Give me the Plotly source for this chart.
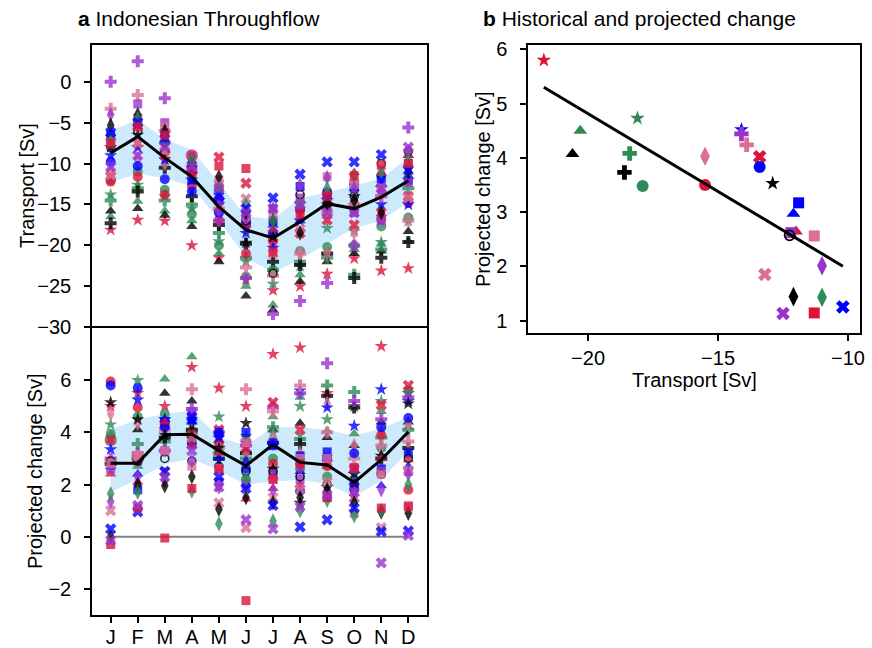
import numpy as np
import plotly.graph_objects as go

months = ["J", "F", "M", "A", "M", "J", "J", "A", "S", "O", "N", "D"]

# ---- panel a (top): multi-model mean and spread of transport [Sv]
trans_mean = [-8.7, -6.7, -9.3, -11.6, -15.3, -18.1, -19.1, -17.1, -14.9, -15.5, -14.1, -12.1]
trans_upper = [-6.0, -4.6, -7.0, -8.3, -12.4, -16.4, -16.8, -14.2, -13.5, -12.7, -11.8, -9.3]
trans_lower = [-12.3, -11.2, -11.8, -12.8, -16.9, -21.5, -23.3, -21.7, -19.8, -17.9, -17.0, -14.7]

# ---- panel a (bottom): multi-model mean and spread of projected change [Sv]
proj_mean = [2.82, 2.82, 3.91, 3.93, 3.3, 2.72, 3.53, 2.85, 2.75, 2.08, 2.95, 4.02]
proj_upper = [4.1, 4.5, 4.7, 4.85, 3.8, 3.5, 4.2, 4.2, 4.1, 3.87, 4.15, 4.58]
proj_lower = [1.7, 2.2, 2.78, 3.0, 2.53, 2.0, 2.12, 2.18, 2.02, 1.54, 2.15, 3.3]

zero_x = [0, 11]
zero_y = [0, 0]

# ---- individual models: monthly transport (t_) and projected change (p_)
t_crimson_star = [-18.1, -16.9, -17.0, -20.0, -21.5, -24.2, -25.5, -25.0, -23.5, -21.6, -23.1, -22.8]
p_crimson_star = [5.0, 5.5, 5.0, 6.5, 5.7, 5.0, 7.0, 7.25, 5.5, 5.0, 7.3, 5.5]
t_green_tri = [-16.5, -14.6, -15.8, -17.0, -21.0, -25.0, -27.3, -23.6, -21.0, -20.5, -19.8, -19.5]
p_green_tri = [3.9, 2.7, 6.05, 6.9, 3.5, 3.8, 4.6, 5.35, 4.05, 3.95, 4.8, 4.2]
t_black_tri = [-15.8, -15.5, -16.3, -17.7, -22.0, -26.2, -27.9, -24.4, -22.0, -21.0, -20.7, -18.3]
p_black_tri = [2.9, 4.1, 5.5, 5.2, 3.7, 3.3, 4.1, 4.35, 3.8, 3.5, 4.4, 4.4]
t_green_star = [-13.8, -12.6, -14.0, -15.5, -19.5, -22.0, -24.7, -22.5, -17.9, -18.3, -19.6, -17.0]
p_green_star = [4.3, 6.0, 4.5, 4.3, 4.6, 3.85, 4.0, 5.0, 4.5, 5.0, 5.2, 5.5]
t_green_plus = [-14.5, -13.0, -14.5, -15.0, -18.5, -21.5, -23.0, -22.0, -21.5, -23.6, -20.5, -13.0]
p_green_plus = [3.7, 3.55, 3.65, 4.0, 3.2, 3.0, 4.2, 3.75, 5.8, 5.55, 3.8, 4.1]
t_black_plus = [-17.3, -13.4, -10.5, -14.0, -17.5, -19.8, -22.0, -22.4, -21.0, -24.0, -21.5, -19.6]
p_black_plus = [2.8, 3.0, 3.8, 4.1, 3.0, 3.2, 3.6, 3.55, 5.4, 4.95, 3.0, 3.4]
t_green_circle = [-12.0, -11.0, -13.2, -16.2, -20.0, -23.8, -23.0, -20.7, -20.2, -20.0, -17.7, -16.6]
p_green_circle = [3.95, 4.6, 4.7, 3.5, 3.3, 2.2, 3.0, 2.6, 2.3, 2.2, 3.4, 5.6]
t_pink_diamond = [-11.0, -9.5, -10.0, -11.5, -13.2, -18.0, -20.0, -21.0, -21.0, -18.5, -15.9, -14.5]
p_pink_diamond = [4.7, 4.35, 4.1, 4.5, 3.5, 3.2, 3.8, 3.2, 5.1, 3.5, 4.0, 4.3]
t_crimson_circle = [-12.2, -11.6, -13.8, -12.7, -16.9, -21.0, -19.5, -15.7, -16.0, -15.0, -16.8, -14.8]
p_crimson_circle = [5.95, 4.95, 4.4, 3.9, 3.6, 3.6, 2.8, 2.8, 2.7, 2.0, 3.9, 1.8]
t_blue_star = [-9.0, -8.0, -9.5, -12.0, -15.0, -18.5, -20.3, -17.0, -14.5, -15.5, -15.0, -15.0]
p_blue_star = [3.35, 5.25, 4.5, 4.5, 3.8, 3.6, 3.5, 5.6, 4.95, 4.25, 5.65, 5.2]
t_orchid_plus = [0.0, 2.5, -2.0, -9.0, -17.0, -24.0, -28.4, -26.8, -24.6, -20.0, -14.0, -5.6]
p_orchid_plus = [3.0, 3.2, 3.3, 4.9, 4.0, 3.5, 4.95, 5.5, 6.65, 5.2, 4.5, 5.35]
t_pink_plus = [-3.3, -1.6, -6.0, -11.0, -15.5, -22.7, -23.7, -21.0, -16.0, -15.0, -14.0, -17.0]
p_pink_plus = [2.9, 3.1, 4.1, 5.65, 3.4, 5.65, 4.8, 5.8, 4.0, 3.0, 3.5, 3.65]
t_crimson_x = [-11.6, -7.5, -9.0, -9.0, -9.2, -12.4, -19.0, -18.5, -16.9, -17.5, -16.0, -14.0]
p_crimson_x = [3.7, 3.0, 4.3, 3.9, 4.1, 3.4, 5.15, 4.1, 3.0, 2.6, 5.05, 5.8]
t_blue_circle = [-9.8, -10.3, -11.9, -13.4, -16.0, -17.5, -18.5, -15.5, -13.6, -12.5, -11.5, -10.3]
p_blue_circle = [5.8, 5.7, 4.2, 3.6, 3.9, 2.6, 3.5, 1.75, 3.0, 3.2, 4.2, 4.55]
t_black_star = [-8.0, -6.5, -7.7, -10.5, -14.5, -19.7, -19.0, -15.0, -15.0, -14.0, -13.0, -12.0]
p_black_star = [5.15, 4.5, 3.9, 3.8, 3.4, 4.35, 2.6, 1.3, 1.9, 2.4, 3.1, 5.1]
t_blue_square = [-6.5, -4.5, -6.2, -12.0, -14.5, -17.0, -17.0, -12.8, -13.6, -13.0, -11.9, -12.0]
p_blue_square = [2.75, 1.8, 4.4, 4.5, 4.0, 4.0, 3.6, 3.1, 3.25, 1.9, 2.6, 3.2]
t_blue_tri = [-6.8, -5.0, -7.0, -10.8, -14.0, -17.0, -17.5, -17.0, -14.0, -13.0, -12.5, -9.0]
p_blue_tri = [2.7, 2.4, 4.5, 4.4, 3.0, 2.9, 2.3, 2.5, 3.0, 2.1, 1.95, 2.7]
t_crimson_tri = [-6.3, -5.5, -8.3, -10.3, -15.5, -17.5, -18.0, -16.5, -13.4, -11.1, -11.2, -9.0]
p_crimson_tri = [2.4, 2.1, 4.4, 3.5, 3.2, 1.45, 1.85, 2.0, 2.7, 1.45, 3.0, 2.95]
t_orchid_square = [-7.0, -2.7, -5.0, -10.3, -14.5, -17.0, -15.5, -14.2, -15.0, -16.0, -17.0, -12.3]
p_orchid_square = [2.6, 2.9, 3.3, 4.8, 2.1, 2.0, 2.4, 2.2, 1.5, 2.6, 2.5, 2.5]
t_black_circle = [-8.0, -6.0, -8.5, -10.0, -13.0, -17.0, -23.4, -13.8, -15.0, -14.0, -10.0, -8.5]
p_black_circle = [2.9, 2.9, 3.0, 2.9, 2.7, 2.5, 2.5, 2.3, 2.0, 1.8, 2.4, 3.0]
t_pink_square = [-7.3, -4.5, -5.5, -10.5, -12.0, -16.5, -16.3, -15.0, -11.6, -12.5, -13.0, -10.0]
p_pink_square = [2.8, 3.1, 3.3, 2.7, 2.6, 3.6, 2.2, 3.0, 3.0, 0.9, 2.4, 1.2]
t_pink_x = [-11.4, -7.5, -8.5, -11.0, -12.5, -14.3, -21.0, -18.0, -16.0, -12.5, -13.0, -14.2]
p_pink_x = [1.0, 3.1, 2.5, 3.8, 1.3, 0.35, 1.5, 1.8, 2.1, 1.5, 0.35, 2.55]
t_orchid_diamond = [-4.0, -4.8, -6.5, -10.0, -15.7, -16.5, -15.5, -12.6, -11.7, -13.0, -13.5, -8.5]
p_orchid_diamond = [1.35, 2.3, 2.15, 2.9, 1.9, 2.0, 1.8, 2.6, 1.6, 1.7, 1.8, 2.4]
t_black_diamond = [-5.3, -4.0, -6.0, -10.0, -11.6, -16.0, -17.0, -18.5, -15.0, -14.5, -16.0, -11.0]
p_black_diamond = [0.0, 2.0, 1.95, 2.3, 1.05, 1.5, 1.3, 1.5, 1.8, 1.3, 0.95, 0.9]
t_green_diamond = [-6.8, -4.5, -7.0, -9.5, -13.0, -15.0, -17.0, -15.0, -13.0, -11.5, -11.0, -9.5]
p_green_diamond = [1.65, 1.7, 2.4, 1.75, 0.5, 2.2, 0.6, 1.0, 1.4, 0.8, 1.0, 2.0]
t_blue_x = [-6.2, -5.0, -7.0, -10.8, -14.0, -15.5, -14.2, -11.3, -9.8, -9.8, -8.9, -10.8]
p_blue_x = [0.3, 0.95, 2.5, 4.6, 2.3, 1.85, 1.2, 0.38, 0.65, 1.1, 0.2, 0.22]
t_crimson_square = [-7.5, -5.5, -6.5, -11.0, -10.3, -10.6, -20.8, -16.0, -14.0, -11.5, -10.2, -10.0]
p_crimson_square = [-0.3, 1.1, -0.05, 1.85, 2.6, -2.45, 2.2, 2.8, 1.5, 2.65, 1.1, 1.15]
t_orchid_x = [-10.4, -9.0, -8.0, -10.3, -13.0, -16.0, -15.5, -15.0, -16.0, -16.0, -13.0, -8.0]
p_orchid_x = [-0.15, 1.2, 2.3, 3.3, 1.9, 0.65, 0.3, 1.15, 1.6, 1.7, -1.0, 0.05]

# ---- panel b: annual-mean historical transport vs projected change per model
hist_transport = [-21.7, -20.3, -20.6, -18.1, -18.4, -18.6, -17.9, -15.5, -15.5, -14.1,
                  -14.1, -13.9, -13.4, -13.4, -12.9, -11.9, -12.1, -12.0, -12.2, -12.25,
                  -11.3, -13.2, -11.0, -12.1, -11.0, -10.2, -11.3, -12.5]
proj_change = [5.8, 4.5, 4.07, 4.73, 4.08, 3.73, 3.48, 4.03, 3.5, 4.52,
               4.44, 4.24, 4.02, 3.83, 3.53, 3.17, 2.97, 2.64, 2.62, 2.57,
               2.56, 1.85, 2.01, 1.44, 1.43, 1.25, 1.14, 1.13]

# ---- styles (colour, symbol) for each model, same order as panel b
CRIMSON, GREEN, BLUE, BLACK, PINK, ORCHID = "#DC143C", "#2E8B57", "#0000FF", "#000000", "#DB7093", "#9932CC"
styles = [
    (CRIMSON, "star"), (GREEN, "triangle-up"), (BLACK, "triangle-up"), (GREEN, "star"),
    (GREEN, "cross"), (BLACK, "cross"), (GREEN, "circle"), (PINK, "diamond-tall"),
    (CRIMSON, "circle"), (BLUE, "star"), (ORCHID, "cross"), (PINK, "cross"),
    (CRIMSON, "x"), (BLUE, "circle"), (BLACK, "star"), (BLUE, "square"),
    (BLUE, "triangle-up"), (CRIMSON, "triangle-up"), (ORCHID, "square"), (BLACK, "circle-open"),
    (PINK, "square"), (PINK, "x"), (ORCHID, "diamond-tall"), (BLACK, "diamond-tall"),
    (GREEN, "diamond-tall"), (BLUE, "x"), (CRIMSON, "square"), (ORCHID, "x"),
]
monthly = [
    (t_crimson_star, p_crimson_star), (t_green_tri, p_green_tri), (t_black_tri, p_black_tri),
    (t_green_star, p_green_star), (t_green_plus, p_green_plus), (t_black_plus, p_black_plus),
    (t_green_circle, p_green_circle), (t_pink_diamond, p_pink_diamond), (t_crimson_circle, p_crimson_circle),
    (t_blue_star, p_blue_star), (t_orchid_plus, p_orchid_plus), (t_pink_plus, p_pink_plus),
    (t_crimson_x, p_crimson_x), (t_blue_circle, p_blue_circle), (t_black_star, p_black_star),
    (t_blue_square, p_blue_square), (t_blue_tri, p_blue_tri), (t_crimson_tri, p_crimson_tri),
    (t_orchid_square, p_orchid_square), (t_black_circle, p_black_circle), (t_pink_square, p_pink_square),
    (t_pink_x, p_pink_x), (t_orchid_diamond, p_orchid_diamond), (t_black_diamond, p_black_diamond),
    (t_green_diamond, p_green_diamond), (t_blue_x, p_blue_x), (t_crimson_square, p_crimson_square),
    (t_orchid_x, p_orchid_x),
]

size_small = {"star": 10, "triangle-up": 10, "cross": 10, "circle": 10, "circle-open": 8,
              "diamond-tall": 11, "x": 10, "square": 9}
size_big = {"star": 11, "triangle-up": 12, "cross": 12, "circle": 12, "circle-open": 10,
            "diamond-tall": 14, "x": 12, "square": 11}

xm = list(range(12))
BAND = "rgba(135,206,250,0.42)"

fig = go.Figure()

# bands
for (lo, up, ya) in [(trans_lower, trans_upper, "y"), (proj_lower, proj_upper, "y2")]:
    xa = "x" if ya == "y" else "x2"
    fig.add_trace(go.Scatter(x=xm, y=lo, mode="lines", line=dict(width=0, color=BAND),
                             xaxis=xa, yaxis=ya, showlegend=False, hoverinfo="skip"))
    fig.add_trace(go.Scatter(x=xm, y=up, mode="lines", line=dict(width=0, color=BAND),
                             fill="tonexty", fillcolor=BAND,
                             xaxis=xa, yaxis=ya, showlegend=False, hoverinfo="skip"))

# zero line
fig.add_trace(go.Scatter(x=zero_x, y=zero_y, mode="lines", line=dict(color="#808080", width=2),
                         xaxis="x2", yaxis="y2", showlegend=False, hoverinfo="skip"))

def marker(color, sym, sizes, opacity):
    if sym == "circle-open":
        return dict(symbol=sym, size=sizes[sym], color=color, opacity=opacity,
                    line=dict(width=1.6, color=color))
    return dict(symbol=sym, size=sizes[sym], color=color, opacity=opacity,
                line=dict(width=0))

for (color, sym), (tv, pv) in zip(styles, monthly):
    fig.add_trace(go.Scatter(x=xm, y=tv, mode="markers", marker=marker(color, sym, size_small, 0.8),
                             xaxis="x", yaxis="y", showlegend=False))
    fig.add_trace(go.Scatter(x=xm, y=pv, mode="markers", marker=marker(color, sym, size_small, 0.8),
                             xaxis="x2", yaxis="y2", showlegend=False))

# mean lines
fig.add_trace(go.Scatter(x=xm, y=trans_mean, mode="lines", line=dict(color="black", width=3),
                         xaxis="x", yaxis="y", showlegend=False))
fig.add_trace(go.Scatter(x=xm, y=proj_mean, mode="lines", line=dict(color="black", width=3),
                         xaxis="x2", yaxis="y2", showlegend=False))

# panel b points
for (color, sym), hx, py in zip(styles, hist_transport, proj_change):
    fig.add_trace(go.Scatter(x=[hx], y=[py], mode="markers", marker=marker(color, sym, size_big, 1.0),
                             xaxis="x3", yaxis="y3", showlegend=False))

# regression line
slope, icpt = np.polyfit(hist_transport, proj_change, 1)
lx = [min(hist_transport), max(hist_transport)]
ly = [slope * v + icpt for v in lx]
fig.add_trace(go.Scatter(x=lx, y=ly, mode="lines", line=dict(color="black", width=3),
                         xaxis="x3", yaxis="y3", showlegend=False))

FONT = "Liberation Sans, Arial, sans-serif"
TICKF = dict(family=FONT, size=20, color="black")
ax = dict(showline=True, mirror=True, linecolor="black", linewidth=1.5, ticks="outside",
          ticklen=6, tickwidth=1.5, tickcolor="black", showgrid=False, zeroline=False,
          tickfont=TICKF, automargin=False)

W, H = 872, 648
def px(a, b):
    return [a / W, b / W]
def py_(top, bot):
    return [1 - bot / H, 1 - top / H]

fig.update_layout(
    width=W, height=H, margin=dict(l=0, r=0, t=0, b=0, pad=0), autosize=False,
    paper_bgcolor="white", plot_bgcolor="white", showlegend=False,
    xaxis=dict(ax, domain=px(92, 427), anchor="y", range=[-0.69, 11.69], showticklabels=False,
               ticks="", side="top", mirror=False, matches="x2"),
    yaxis=dict(ax, domain=py_(45, 328), anchor="x", range=[-30.1, 4.5],
               tickvals=[-30, -25, -20, -15, -10, -5, 0], ticklabelstandoff=9),
    xaxis2=dict(ax, domain=px(92, 427), anchor="y2", range=[-0.69, 11.69],
                tickvals=xm, ticktext=months, ticklabelstandoff=-3),
    yaxis2=dict(ax, domain=py_(328, 615), anchor="x2", range=[-3.0, 8.0],
                tickvals=[-2, 0, 2, 4, 6], ticklabelstandoff=9),
    xaxis3=dict(ax, domain=px(528, 860), anchor="y3", range=[-22.31, -9.54],
                tickvals=[-20, -15, -10]),
    yaxis3=dict(ax, domain=py_(45, 333), anchor="x3", range=[0.77, 6.08],
                tickvals=[1, 2, 3, 4, 5, 6], ticklabelstandoff=9),
)

LAB = dict(family=FONT, size=20, color="black")
TIT = dict(family=FONT, size=21, color="black")
anns = [
    dict(text="<b>a</b> Indonesian Throughflow", x=76 / W, y=1 - 18 / H, xanchor="left", yanchor="middle",
         font=TIT),
    dict(text="<b>b</b> Historical and projected change", x=481 / W, y=1 - 18 / H, xanchor="left",
         yanchor="middle", font=TIT),
    dict(text="Transport [Sv]", x=27 / W, y=1 - 186 / H, textangle=-90, font=LAB),
    dict(text="Projected change [Sv]", x=35 / W, y=1 - 471 / H, textangle=-90, font=LAB),
    dict(text="Projected change [Sv]", x=483 / W, y=1 - 189 / H, textangle=-90, font=LAB),
    dict(text="Transport [Sv]", x=694 / W, y=1 - 380 / H, font=LAB),
]
for a in anns:
    a.update(xref="paper", yref="paper", showarrow=False)
    a.setdefault("xanchor", "center")
    a.setdefault("yanchor", "middle")
fig.update_layout(annotations=anns)

fig.write_html("out.html", config={"displayModeBar": False},
               post_script="document.body.style.margin='0px';")
